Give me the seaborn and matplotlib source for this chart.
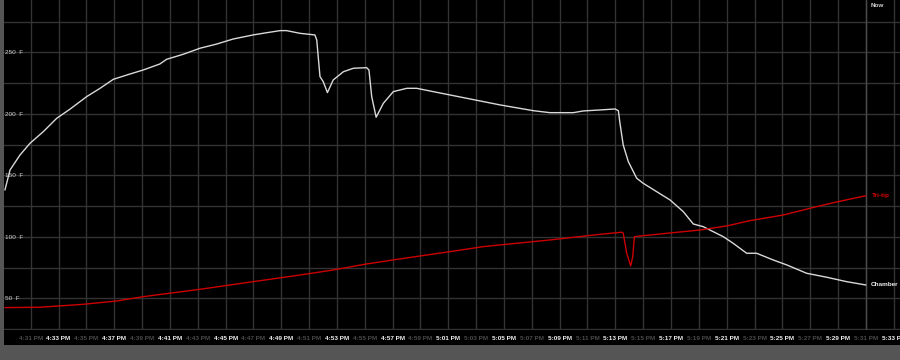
import matplotlib
matplotlib.use("Agg")
import matplotlib.pyplot as plt
import matplotlib.dates as mdates
from matplotlib.patches import Rectangle
import pandas as pd
import seaborn as sns

DAY = "2024-01-01 "

chamber_times = ["16:29:09", "16:29:31", "16:30:14", "16:30:57", "16:31:54", "16:32:52",
                 "16:33:49", "16:35:01", "16:35:59", "16:36:56", "16:37:54", "16:39:05",
                 "16:40:17", "16:40:46", "16:41:58", "16:43:10", "16:44:22", "16:45:33",
                 "16:46:59", "16:47:57", "16:48:55", "16:49:23", "16:50:21", "16:51:25",
                 "16:51:33", "16:51:47", "16:52:01", "16:52:19", "16:52:44", "16:53:28",
                 "16:54:11", "16:55:08", "16:55:18", "16:55:30", "16:55:49", "16:56:20",
                 "16:57:03", "16:58:01", "16:58:44", "16:59:55", "17:02:19", "17:04:43",
                 "17:07:07", "17:08:18", "17:09:59", "17:10:42", "17:11:54", "17:12:59",
                 "17:13:13", "17:13:20", "17:13:34", "17:13:56", "17:14:32", "17:15:00",
                 "17:15:58", "17:16:56", "17:17:53", "17:18:36", "17:19:19", "17:20:45",
                 "17:21:28", "17:22:26", "17:23:09", "17:24:21", "17:25:19", "17:26:45",
                 "17:28:11", "17:29:37", "17:31:00"]
chamber_temp = [138.0, 154.3, 166.5, 176.0, 185.4, 196.3,
                203.7, 213.9, 220.7, 228.0, 231.5, 235.6,
                240.5, 244.3, 248.4, 253.3, 256.7, 260.8,
                264.1, 265.9, 267.6, 267.6, 265.4, 264.1,
                260.0, 230.2, 226.1, 217.2, 227.5, 234.2,
                237.0, 237.5, 235.6, 213.9, 197.2, 208.5,
                218.0, 220.7, 220.7, 218.0, 212.6, 207.2,
                202.5, 200.9, 200.9, 202.3, 203.1, 203.9,
                202.5, 192.3, 174.6, 161.1, 147.6, 143.5,
                136.7, 129.9, 120.4, 110.4, 108.2, 100.1,
                94.7, 86.6, 86.6, 81.1, 77.1, 70.3,
                67.1, 63.5, 60.8]

tritip_times = ["16:29:09", "16:31:40", "16:34:47", "16:37:11", "16:39:05", "16:43:10",
                "16:46:59", "16:50:21", "16:52:44", "16:55:08", "16:57:32", "17:01:07",
                "17:03:31", "17:08:18", "17:11:54", "17:13:28", "17:13:34", "17:13:49",
                "17:14:06", "17:14:15", "17:14:22", "17:16:41", "17:19:05", "17:21:00",
                "17:22:40", "17:25:04", "17:27:28", "17:28:40", "17:31:00"]
tritip_temp = [42.4, 42.7, 45.1, 47.8, 51.3, 57.3,
               63.5, 68.9, 73.0, 77.9, 82.0, 87.9,
               92.0, 97.4, 102.0, 103.7, 103.0, 86.6,
               76.3, 83.8, 100.1, 102.8, 105.5, 108.8,
               113.1, 117.7, 124.5, 127.7, 133.4]

series_names = ["Chamber", "Tri-tip"]
series_colors = ["#d9d9d9", "#cc0000"]

y_grid = [25, 50, 75, 100, 125, 150, 175, 200, 225, 250, 275]
y_labels = ["", "50  F", "", "100  F", "", "150  F", "", "200  F", "", "250  F", ""]

x_start, x_end = "16:29:05", "17:33:27"
now_time = "17:31:00"

sns.set_theme(style="dark")
plt.rcParams["font.family"] = ["Liberation Sans", "DejaVu Sans"]

df = pd.concat([
    pd.DataFrame({"time": pd.to_datetime([DAY + t for t in chamber_times]),
                  "temp": chamber_temp, "probe": series_names[0]}),
    pd.DataFrame({"time": pd.to_datetime([DAY + t for t in tritip_times]),
                  "temp": tritip_temp, "probe": series_names[1]}),
], ignore_index=True)

fig = plt.figure(figsize=(9, 3.6), dpi=100, facecolor="#555555")
fig.patches.append(Rectangle((4 / 900, 15 / 360), 896 / 900, 15 / 360,
                             transform=fig.transFigure, facecolor="black",
                             edgecolor="none", zorder=-1))
ax = fig.add_axes([4 / 900, 30 / 360, 896 / 900, 330 / 360])
ax.set_facecolor("black")

sns.lineplot(data=df, x="time", y="temp", hue="probe",
             palette=dict(zip(series_names, series_colors)),
             linewidth=1.0, legend=False, ax=ax, zorder=3)

ax.set_xlim(pd.Timestamp(DAY + x_start), pd.Timestamp(DAY + x_end))
ax.set_ylim(24.2, 292.5)

# x ticks: gridlines on odd minutes, separators on even minutes
ax.xaxis.set_major_locator(mdates.MinuteLocator(byminute=range(1, 60, 2)))
ax.xaxis.set_minor_locator(mdates.MinuteLocator(byminute=range(0, 60, 2)))
ax.xaxis.set_major_formatter(
    matplotlib.ticker.FuncFormatter(lambda v, p: mdates.num2date(v).strftime("%I:%M PM").lstrip("0")))
ax.tick_params(axis="x", which="major", length=0, pad=4.5, labelsize=4.6)
ax.tick_params(axis="x", which="minor", length=11, width=0.8, color="#303030", direction="out")
fig.canvas.draw()
for lab in ax.get_xticklabels():
    txt = lab.get_text()
    mm = int(txt.split(":")[1][:2])
    bright = (mm - 1) % 4 == 0
    lab.set_color("#f0f0f0" if bright else "#4a4a4a")
    lab.set_fontweight("bold")

ax.set_yticks(y_grid)
ax.set_yticklabels(y_labels)
ax.tick_params(axis="y", length=0, pad=-1, labelsize=4.6, labelcolor="#d0d0d0")
for lab in ax.get_yticklabels():
    lab.set_horizontalalignment("left")

ax.grid(True, which="major", color="#333333", linewidth=1.0)
ax.grid(False, which="minor")
for s in ax.spines.values():
    s.set_visible(False)
ax.set_xlabel("")
ax.set_ylabel("")

now = pd.Timestamp(DAY + now_time)
ax.axvline(now, color="#4a4a4a", linewidth=1.0, zorder=2)
off = pd.Timedelta(seconds=20)
ax.text(now + off, 290, "Now", color="#d0d0d0", fontsize=4.6, fontweight="bold",
        ha="left", va="top")
ax.text(now + pd.Timedelta(seconds=26), tritip_temp[-1], "Tri-tip", color="#dd0000",
        fontsize=4.6, fontweight="bold", ha="left", va="center")
ax.text(now + off, chamber_temp[-1], "Chamber", color="#f0f0f0",
        fontsize=4.6, fontweight="bold", ha="left", va="center")

fig.savefig("out.png", dpi=100, facecolor=fig.get_facecolor())
